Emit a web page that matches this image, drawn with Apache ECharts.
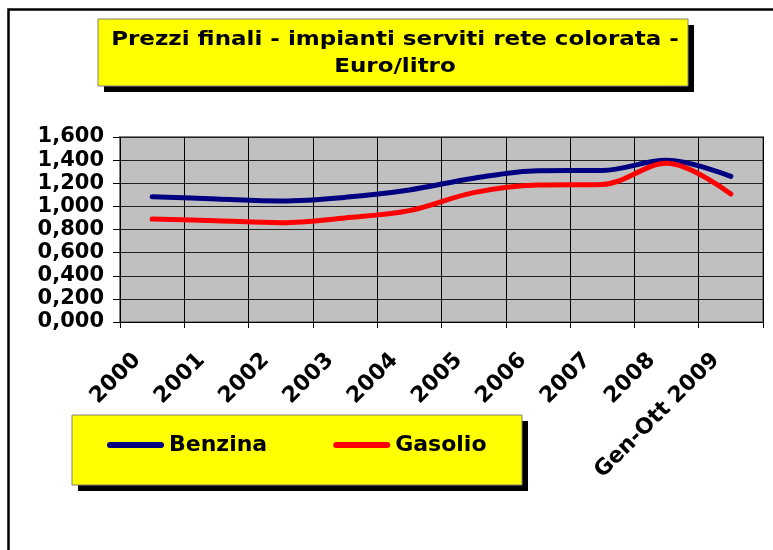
<!DOCTYPE html>
<html>
<head>
<meta charset="utf-8">
<script src="https://cdn.jsdelivr.net/npm/echarts@6/dist/echarts.min.js"></script>
<style>
  html, body { margin: 0; padding: 0; background: #fff; }
  #chart { width: 773px; height: 550px; }
</style>
</head>
<body>
<div id="chart"></div>
<script>
// categories and series values (euro / litre)
const years = ['2000', '2001', '2002', '2003', '2004', '2005', '2006', '2007', '2008', 'Gen-Ott 2009']
const benzina = [1.084, 1.064, 1.047, 1.078, 1.142, 1.243, 1.309, 1.311, 1.398, 1.260]
const gasolio = [0.891, 0.876, 0.859, 0.900, 0.963, 1.119, 1.185, 1.190, 1.372, 1.107]
const titleLines = ['Prezzi finali - impianti serviti rete colorata -', 'Euro/litro']

const FONT = 'DejaVu Sans'
const chart = echarts.init(document.getElementById('chart'))

// yellow box with a hard black shadow
const box = (x, y, w, h, z) => [
  { type: 'rect', z, shape: { x: x + 6, y: y + 6, width: w, height: h }, style: { fill: '#000' } },
  { type: 'rect', z: z + 1, shape: { x, y, width: w, height: h }, style: { fill: '#ffff00', stroke: '#808080', lineWidth: 1 } }
]

const fmt = v => v.toFixed(3).replace('.', ',')
// capsule shaped legend key, like a thick line with round caps
const legendKey = 'path://M3,0 L54,0 A3,3 0 0 1 54,6 L3,6 A3,3 0 0 1 3,0 Z'

chart.setOption({
  animation: false,
  backgroundColor: '#fff',
  textStyle: { fontFamily: FONT },
  graphic: [
    // frame of the sheet chart (only top and left edges are inside the picture)
    { type: 'polyline', z: 0, shape: { points: [[8.5, 560], [8.5, 9.5], [780, 9.5]] }, style: { fill: null, stroke: '#000', lineWidth: 2.5 } },
    ...box(98, 19, 590, 67, 1),
    {
      type: 'text', z: 5, x: 395, y: 40, scaleX: 1.15,
      style: { text: titleLines[0], font: `bold 20px "${FONT}"`, fill: '#000', align: 'center', verticalAlign: 'middle' }
    },
    {
      type: 'text', z: 5, x: 395, y: 67, scaleX: 1.15,
      style: { text: titleLines[1], font: `bold 20px "${FONT}"`, fill: '#000', align: 'center', verticalAlign: 'middle' }
    },
    ...box(72, 415, 450, 70, 1)
  ],
  legend: {
    left: 107,
    top: 434,
    padding: 0,
    icon: legendKey,
    itemWidth: 57,
    itemHeight: 6,
    itemGap: 66,
    z: 10,
    textStyle: { fontFamily: FONT, fontWeight: 'bold', fontSize: 22, color: '#000' },
    data: ['Benzina', 'Gasolio']
  },
  grid: {
    left: 120, right: 10, top: 137, bottom: 228,
    show: true, backgroundColor: '#c0c0c0', borderColor: '#808080', borderWidth: 2,
    containLabel: false, outerBoundsMode: 'none'
  },
  xAxis: {
    type: 'category',
    data: years,
    boundaryGap: true,
    axisLine: { lineStyle: { color: '#000', width: 1 } },
    axisTick: { show: true, length: 6, interval: 0, lineStyle: { color: '#000' } },
    splitLine: { show: true, interval: 0, lineStyle: { color: '#000', width: 1 } },
    axisLabel: {
      interval: 0, rotate: 45, margin: 20, padding: [0, 21, 0, 0],
      color: '#000', fontFamily: FONT, fontWeight: 'bold', fontSize: 22
    }
  },
  yAxis: {
    type: 'value',
    min: 0, max: 1.6, interval: 0.2,
    axisLine: { show: false },
    axisTick: { show: true, length: 7, lineStyle: { color: '#000' } },
    splitLine: { lineStyle: { color: '#222', width: 1 } },
    axisLabel: {
      margin: 16, formatter: fmt,
      color: '#000', fontFamily: FONT, fontWeight: 'bold', fontSize: 21
    }
  },
  series: [
    {
      name: 'Benzina', type: 'line', data: benzina, smooth: 0.35, symbol: 'none', z: 3,
      lineStyle: { color: '#000080', width: 5, cap: 'round', join: 'round' },
      itemStyle: { color: '#000080' }
    },
    {
      name: 'Gasolio', type: 'line', data: gasolio, smooth: 0.35, symbol: 'none', z: 4,
      lineStyle: { color: '#ff0000', width: 5, cap: 'round', join: 'round' },
      itemStyle: { color: '#ff0000' }
    }
  ]
})
</script>
</body>
</html>
